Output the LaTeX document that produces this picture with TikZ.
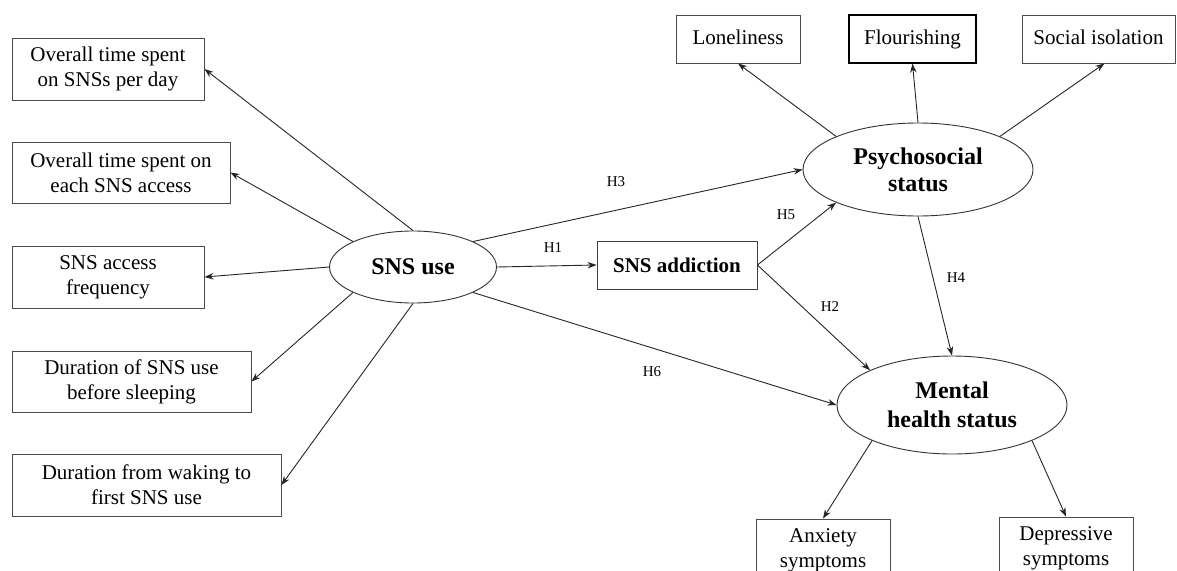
\documentclass[tikz,border=0pt]{standalone}
\usepackage{fontspec}
\setmainfont{Liberation Serif}
\usetikzlibrary{arrows.meta,shapes.geometric}
\begin{document}
\begin{tikzpicture}[x=1pt,y=-1pt,
  every node/.style={font=\fontsize{21}{25}\selectfont},
  box/.style={draw=black!70, line width=0.9pt, rectangle, inner sep=0pt, align=center},
  topbox/.style={box, minimum height=48pt, text height=14.5pt, text depth=4.5pt},
  lat/.style={draw=black!80, line width=0.9pt, ellipse, inner sep=0pt, align=center, font=\fontsize{24}{27}\selectfont\bfseries},
  arr/.style={-{Stealth[length=9pt,width=6.5pt]}, line width=0.9pt, draw=black!85},
  hlab/.style={font=\fontsize{15}{17}\selectfont, inner sep=0pt}
]
\useasboundingbox (0,0) rectangle (1177,570);
\fill[white] (0,0) rectangle (1177,570);

% indicator boxes of SNS use
\node[box, minimum width=192pt, minimum height=62pt] (b1) at (108,69) {Overall time spent\\on SNSs per day};
\node[box, minimum width=218pt, minimum height=61pt] (b2) at (121,172.5) {Overall time spent on\\each SNS access};
\node[box, minimum width=192pt, minimum height=62pt] (b3) at (108,277) {SNS access\\frequency};
\node[box, minimum width=239pt, minimum height=61pt] (b4) at (131.5,381.5) {Duration of SNS use\\before sleeping};
\node[box, minimum width=269pt, minimum height=62pt] (b5) at (146.5,485) {Duration from waking to\\first SNS use};

% latent variables
\node[lat, minimum width=167pt, minimum height=72pt] (use) at (413,267) {SNS use};
\node[box, minimum width=160pt, minimum height=48pt, draw=black!75, font=\fontsize{21}{25}\selectfont\bfseries] (add) at (677,265) {SNS addiction};
\node[lat, minimum width=230pt, minimum height=93pt] (psy) at (918,169.5) {Psychosocial\\status};
\node[lat, minimum width=230pt, minimum height=98pt, font=\fontsize{24}{29}\selectfont\bfseries] (men) at (952,405) {Mental\\health status};

% top indicator boxes
\node[topbox, minimum width=124pt] (lon) at (738,39) {Loneliness};
\node[topbox, minimum width=127pt, draw=black, line width=1.3pt] (flo) at (912.5,39) {Flourishing};
\node[topbox, minimum width=153pt] (soc) at (1098.5,39) {Social isolation};

% bottom indicator boxes
\node[box, minimum width=134pt, minimum height=62pt] (anx) at (823,550) {Anxiety\\symptoms};
\node[box, minimum width=134pt, minimum height=62pt] (dep) at (1066,548) {Depressive\\symptoms};

% measurement arrows
\draw[arr] (use.north) -- (b1.east);
\draw[arr] (use.157) -- (b2.east);
\draw[arr] (use.west) -- (b3.east);
\draw[arr] (use.203) -- (b4.east);
\draw[arr] (use.south) -- (b5.east);
\draw[arr] (psy.158) -- (lon.south);
\draw[arr] (psy.north) -- (flo.south);
\draw[arr] (psy.22) -- ([xshift=6pt]soc.south);
\draw[arr] (men.204) -- (anx.north);
\draw[arr] (men.336) -- (dep.north);

% structural paths
\draw[arr] (use.east) -- (add.west);
\draw[arr] (use.23) -- (psy.west);
\draw[arr] (add.east) -- (psy.202);
\draw[arr] (add.east) -- (men.157);
\draw[arr] (psy.south) -- (men.north);
\draw[arr] (use.337) -- (men.west);

% path labels
\node[hlab] (h1) at (553,248) {H1};
\node[hlab] (h3) at (616,182) {H3};
\node[hlab] (h5) at (786,215) {H5};
\node[hlab] (h2) at (830,307) {H2};
\node[hlab] (h4) at (956,278) {H4};
\node[hlab] (h6) at (652,372) {H6};
\end{tikzpicture}
\end{document}
